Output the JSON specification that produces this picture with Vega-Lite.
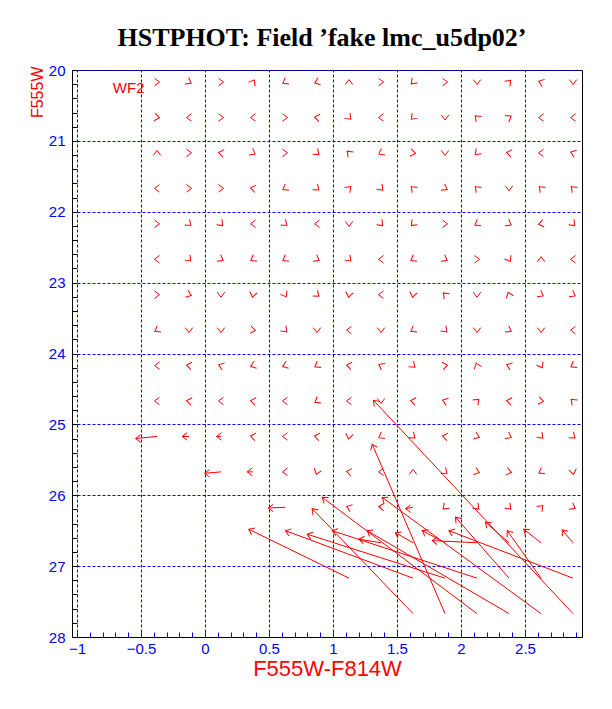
{
  "$schema": "https://vega.github.io/schema/vega-lite/v6.json",
  "width": 510,
  "height": 567,
  "autosize": {"type": "none"},
  "padding": {"left": 72, "top": 70, "right": 30, "bottom": 72},
  "background": "white",
  "config": {"view": {"stroke": "black", "strokeWidth": 1}},
  "title": {"text": "HSTPHOT: Field ’fake lmc_u5dp02’", "font": "Liberation Serif", "fontSize": 26, "fontWeight": "bold", "color": "black", "anchor": "middle", "offset": 12, "dx": -5},
  "datasets": {
    "stars": [
      {"x": -0.375, "y": 20.17, "dir": 0}, {"x": -0.125, "y": 20.17, "dir": 30}, {"x": 0.125, "y": 20.17, "dir": 0}, {"x": 0.375, "y": 20.17, "dir": 300}, {"x": 0.625, "y": 20.17, "dir": 150}, {"x": 0.875, "y": 20.17, "dir": 160}, {"x": 1.125, "y": 20.17, "dir": 270}, {"x": 1.375, "y": 20.17, "dir": 0}, {"x": 1.625, "y": 20.17, "dir": 135}, {"x": 1.875, "y": 20.17, "dir": 0}, {"x": 2.125, "y": 20.17, "dir": 90}, {"x": 2.375, "y": 20.17, "dir": 315}, {"x": 2.625, "y": 20.17, "dir": 200}, {"x": 2.875, "y": 20.17, "dir": 90},
      {"x": -0.375, "y": 20.67, "dir": 10}, {"x": -0.125, "y": 20.67, "dir": 180}, {"x": 0.125, "y": 20.67, "dir": 0}, {"x": 0.375, "y": 20.67, "dir": 180}, {"x": 0.625, "y": 20.67, "dir": 0}, {"x": 0.875, "y": 20.67, "dir": 190}, {"x": 1.125, "y": 20.67, "dir": 45}, {"x": 1.375, "y": 20.67, "dir": 180}, {"x": 1.625, "y": 20.67, "dir": 135}, {"x": 1.875, "y": 20.67, "dir": 90}, {"x": 2.125, "y": 20.67, "dir": 225}, {"x": 2.375, "y": 20.67, "dir": 330}, {"x": 2.625, "y": 20.67, "dir": 180}, {"x": 2.875, "y": 20.67, "dir": 180},
      {"x": -0.375, "y": 21.17, "dir": 270}, {"x": -0.125, "y": 21.17, "dir": 0}, {"x": 0.125, "y": 21.17, "dir": 190}, {"x": 0.375, "y": 21.17, "dir": 30}, {"x": 0.625, "y": 21.17, "dir": 0}, {"x": 0.875, "y": 21.17, "dir": 40}, {"x": 1.125, "y": 21.17, "dir": 225}, {"x": 1.375, "y": 21.17, "dir": 150}, {"x": 1.625, "y": 21.17, "dir": 10}, {"x": 1.875, "y": 21.17, "dir": 90}, {"x": 2.125, "y": 21.17, "dir": 135}, {"x": 2.375, "y": 21.17, "dir": 190}, {"x": 2.625, "y": 21.17, "dir": 180}, {"x": 2.875, "y": 21.17, "dir": 200},
      {"x": -0.375, "y": 21.67, "dir": 180}, {"x": -0.125, "y": 21.67, "dir": 0}, {"x": 0.125, "y": 21.67, "dir": 0}, {"x": 0.375, "y": 21.67, "dir": 190}, {"x": 0.625, "y": 21.67, "dir": 150}, {"x": 0.875, "y": 21.67, "dir": 40}, {"x": 1.125, "y": 21.67, "dir": 315}, {"x": 1.375, "y": 21.67, "dir": 45}, {"x": 1.625, "y": 21.67, "dir": 225}, {"x": 1.875, "y": 21.67, "dir": 30}, {"x": 2.125, "y": 21.67, "dir": 225}, {"x": 2.375, "y": 21.67, "dir": 90}, {"x": 2.625, "y": 21.67, "dir": 225}, {"x": 2.875, "y": 21.67, "dir": 225},
      {"x": -0.375, "y": 22.17, "dir": 0}, {"x": -0.125, "y": 22.17, "dir": 40}, {"x": 0.125, "y": 22.17, "dir": 45}, {"x": 0.375, "y": 22.17, "dir": 180}, {"x": 0.625, "y": 22.17, "dir": 40}, {"x": 0.875, "y": 22.17, "dir": 180}, {"x": 1.125, "y": 22.17, "dir": 90}, {"x": 1.375, "y": 22.17, "dir": 45}, {"x": 1.625, "y": 22.17, "dir": 135}, {"x": 1.875, "y": 22.17, "dir": 0}, {"x": 2.125, "y": 22.17, "dir": 150}, {"x": 2.375, "y": 22.17, "dir": 30}, {"x": 2.625, "y": 22.17, "dir": 170}, {"x": 2.875, "y": 22.17, "dir": 45},
      {"x": -0.375, "y": 22.67, "dir": 180}, {"x": -0.125, "y": 22.67, "dir": 45}, {"x": 0.125, "y": 22.67, "dir": 30}, {"x": 0.375, "y": 22.67, "dir": 150}, {"x": 0.625, "y": 22.67, "dir": 150}, {"x": 0.875, "y": 22.67, "dir": 30}, {"x": 1.125, "y": 22.67, "dir": 45}, {"x": 1.375, "y": 22.67, "dir": 180}, {"x": 1.625, "y": 22.67, "dir": 150}, {"x": 1.875, "y": 22.67, "dir": 30}, {"x": 2.125, "y": 22.67, "dir": 0}, {"x": 2.375, "y": 22.67, "dir": 60}, {"x": 2.625, "y": 22.67, "dir": 270}, {"x": 2.875, "y": 22.67, "dir": 180},
      {"x": -0.375, "y": 23.17, "dir": 0}, {"x": -0.125, "y": 23.17, "dir": 20}, {"x": 0.125, "y": 23.17, "dir": 90}, {"x": 0.375, "y": 23.17, "dir": 100}, {"x": 0.625, "y": 23.17, "dir": 60}, {"x": 0.875, "y": 23.17, "dir": 40}, {"x": 1.125, "y": 23.17, "dir": 100}, {"x": 1.375, "y": 23.17, "dir": 180}, {"x": 1.625, "y": 23.17, "dir": 100}, {"x": 1.875, "y": 23.17, "dir": 225}, {"x": 2.125, "y": 23.17, "dir": 90}, {"x": 2.375, "y": 23.17, "dir": 250}, {"x": 2.625, "y": 23.17, "dir": 30}, {"x": 2.875, "y": 23.17, "dir": 30},
      {"x": -0.375, "y": 23.67, "dir": 150}, {"x": -0.125, "y": 23.67, "dir": 90}, {"x": 0.125, "y": 23.67, "dir": 90}, {"x": 0.375, "y": 23.67, "dir": 10}, {"x": 0.625, "y": 23.67, "dir": 45}, {"x": 0.875, "y": 23.67, "dir": 90}, {"x": 1.125, "y": 23.67, "dir": 180}, {"x": 1.375, "y": 23.67, "dir": 90}, {"x": 1.625, "y": 23.67, "dir": 150}, {"x": 1.875, "y": 23.67, "dir": 45}, {"x": 2.125, "y": 23.67, "dir": 90}, {"x": 2.375, "y": 23.67, "dir": 30}, {"x": 2.625, "y": 23.67, "dir": 90}, {"x": 2.875, "y": 23.67, "dir": 180},
      {"x": -0.375, "y": 24.17, "dir": 180}, {"x": -0.125, "y": 24.17, "dir": 190}, {"x": 0.125, "y": 24.17, "dir": 200}, {"x": 0.375, "y": 24.17, "dir": 160}, {"x": 0.625, "y": 24.17, "dir": 160}, {"x": 0.875, "y": 24.17, "dir": 150}, {"x": 1.125, "y": 24.17, "dir": 190}, {"x": 1.375, "y": 24.17, "dir": 210}, {"x": 1.625, "y": 24.17, "dir": 40}, {"x": 1.875, "y": 24.17, "dir": 350}, {"x": 2.125, "y": 24.17, "dir": 250}, {"x": 2.375, "y": 24.17, "dir": 200}, {"x": 2.625, "y": 24.17, "dir": 60}, {"x": 2.875, "y": 24.17, "dir": 150},
      {"x": -0.375, "y": 24.67, "dir": 180}, {"x": -0.125, "y": 24.67, "dir": 190}, {"x": 0.125, "y": 24.67, "dir": 180}, {"x": 0.375, "y": 24.67, "dir": 190}, {"x": 0.625, "y": 24.67, "dir": 180}, {"x": 0.875, "y": 24.67, "dir": 150}, {"x": 1.125, "y": 24.67, "dir": 180}, {"x": 1.375, "y": 24.67, "dir": 90}, {"x": 1.625, "y": 24.67, "dir": 190}, {"x": 1.875, "y": 24.67, "dir": 200}, {"x": 2.125, "y": 24.67, "dir": 315}, {"x": 2.375, "y": 24.67, "dir": 190}, {"x": 2.625, "y": 24.67, "dir": 10}, {"x": 2.875, "y": 24.67, "dir": 225},
      {"x": 0.375, "y": 25.17, "dir": 190}, {"x": 0.625, "y": 25.17, "dir": 180}, {"x": 0.875, "y": 25.17, "dir": 190}, {"x": 1.125, "y": 25.17, "dir": 100}, {"x": 1.375, "y": 25.17, "dir": 150}, {"x": 1.625, "y": 25.17, "dir": 40}, {"x": 1.875, "y": 25.17, "dir": 190}, {"x": 2.125, "y": 25.17, "dir": 20}, {"x": 2.375, "y": 25.17, "dir": 30}, {"x": 2.625, "y": 25.17, "dir": 45}, {"x": 2.875, "y": 25.17, "dir": 40},
      {"x": 0.625, "y": 25.67, "dir": 180}, {"x": 0.875, "y": 25.67, "dir": 110}, {"x": 1.125, "y": 25.67, "dir": 190}, {"x": 1.375, "y": 25.67, "dir": 180}, {"x": 1.625, "y": 25.67, "dir": 270}, {"x": 1.875, "y": 25.67, "dir": 40}, {"x": 2.125, "y": 25.67, "dir": 20}, {"x": 2.375, "y": 25.67, "dir": 10}, {"x": 2.625, "y": 25.67, "dir": 150}, {"x": 2.875, "y": 25.67, "dir": 80},
      {"x": 1.125, "y": 26.17, "dir": 200}, {"x": 1.875, "y": 26.17, "dir": 135}, {"x": 2.125, "y": 26.17, "dir": 45}, {"x": 2.375, "y": 26.17, "dir": 45}, {"x": 2.625, "y": 26.17, "dir": 315}, {"x": 2.875, "y": 26.17, "dir": 30}
    ],
    "arrows": [
      {"x": 0.625, "y": 26.17, "mx": 0.494, "my": 26.18, "dir": 180},
      {"x": 1.375, "y": 26.17, "mx": 1.358, "my": 26.16, "dir": 185},
      {"x": 1.625, "y": 26.17, "mx": 1.566, "my": 26.19, "dir": 180},
      {"x": 1.625, "y": 27.67, "mx": 0.837, "my": 26.19, "dir": 226},
      {"x": 2.125, "y": 27.67, "mx": 0.916, "my": 26.03, "dir": 217},
      {"x": 2.625, "y": 27.67, "mx": 1.384, "my": 26.03, "dir": 216},
      {"x": 1.125, "y": 27.17, "mx": 0.342, "my": 26.48, "dir": 206},
      {"x": 1.625, "y": 27.17, "mx": 0.629, "my": 26.5, "dir": 200},
      {"x": 1.875, "y": 27.17, "mx": 0.798, "my": 26.55, "dir": 198},
      {"x": 2.125, "y": 27.17, "mx": 0.994, "my": 26.5, "dir": 198},
      {"x": 2.375, "y": 27.67, "mx": 1.267, "my": 26.5, "dir": 210},
      {"x": 1.375, "y": 26.67, "mx": 1.202, "my": 26.62, "dir": 189},
      {"x": 1.625, "y": 26.67, "mx": 1.488, "my": 26.53, "dir": 209},
      {"x": 1.875, "y": 26.67, "mx": 1.697, "my": 26.5, "dir": 208},
      {"x": 2.875, "y": 27.17, "mx": 1.905, "my": 26.5, "dir": 201},
      {"x": 2.125, "y": 26.67, "mx": 1.775, "my": 26.64, "dir": 183},
      {"x": 2.625, "y": 27.17, "mx": 2.361, "my": 26.5, "dir": 234},
      {"x": 2.375, "y": 26.67, "mx": 2.191, "my": 26.38, "dir": 221},
      {"x": 2.375, "y": 27.17, "mx": 1.957, "my": 26.31, "dir": 229},
      {"x": 2.625, "y": 26.67, "mx": 2.49, "my": 26.48, "dir": 218},
      {"x": 2.875, "y": 26.67, "mx": 2.79, "my": 26.49, "dir": 229},
      {"x": 1.875, "y": 27.67, "mx": 1.306, "my": 25.28, "dir": 247},
      {"x": 2.875, "y": 27.67, "mx": 1.316, "my": 24.66, "dir": 227},
      {"x": -0.375, "y": 25.17, "mx": -0.542, "my": 25.2, "dir": 180},
      {"x": -0.125, "y": 25.17, "mx": -0.178, "my": 25.17, "dir": 180},
      {"x": 0.125, "y": 25.17, "mx": 0.09, "my": 25.17, "dir": 180},
      {"x": 0.125, "y": 25.67, "mx": -0.004, "my": 25.69, "dir": 180},
      {"x": 0.375, "y": 25.67, "mx": 0.33, "my": 25.67, "dir": 180}
    ],
    "labels": [{"x": -0.72, "y": 20.25, "text": "WF2"}]
  },
  "layer": [
    {
      "data": {"name": "stars"},
      "mark": {"type": "point", "shape": "M-0.5,-0.75L0.5,0L-0.5,0.75", "filled": false, "color": "#ff0000", "opacity": 1, "strokeWidth": 1, "size": 100},
      "encoding": {
        "x": {
          "field": "x", "type": "quantitative",
          "scale": {"domain": [-1.039, 2.945], "nice": false, "zero": false},
          "axis": {
            "title": "F555W-F814W",
            "values": [-1, -0.9, -0.8, -0.7, -0.6, -0.5, -0.4, -0.3, -0.2, -0.1, 0, 0.1, 0.2, 0.3, 0.4, 0.5, 0.6, 0.7, 0.8, 0.9, 1, 1.1, 1.2, 1.3, 1.4, 1.5, 1.6, 1.7, 1.8, 1.9, 2, 2.1, 2.2, 2.3, 2.4, 2.5, 2.6, 2.7, 2.8, 2.9],
            "tickCount": 200,
            "format": "~g",
            "labelExpr": "abs(datum.value*2 - round(datum.value*2)) < 0.001 ? datum.label : ''",
            "labelOverlap": false,
            "labelFlush": false,
            "labelColor": "#0000ff",
            "labelFont": "Liberation Sans",
            "labelFontSize": 15,
            "labelPadding": 9,
            "tickSize": -5,
            "tickColor": "#0000ff",
            "domainColor": "black",
            "grid": true,
            "gridColor": "#0000ff",
            "gridDash": [3, 2],
            "gridOpacity": {"condition": {"test": "abs(datum.value*2 - round(datum.value*2)) < 0.001", "value": 1}, "value": 0},
            "titleColor": "#ff0000",
            "titleFont": "Liberation Sans",
            "titleFontSize": 22,
            "titleFontWeight": "normal",
            "titlePadding": 2
          }
        },
        "y": {
          "field": "y", "type": "quantitative",
          "scale": {"domain": [20, 28], "nice": false, "zero": false, "reverse": true},
          "axis": {
            "title": "F555W",
            "values": [20, 20.2, 20.4, 20.6, 20.8, 21, 21.2, 21.4, 21.6, 21.8, 22, 22.2, 22.4, 22.6, 22.8, 23, 23.2, 23.4, 23.6, 23.8, 24, 24.2, 24.4, 24.6, 24.8, 25, 25.2, 25.4, 25.6, 25.8, 26, 26.2, 26.4, 26.6, 26.8, 27, 27.2, 27.4, 27.6, 27.8, 28],
            "tickCount": 200,
            "format": "~g",
            "labelExpr": "abs(datum.value - round(datum.value)) < 0.001 ? datum.label : ''",
            "labelOverlap": false,
            "labelFlush": false,
            "labelColor": "#0000ff",
            "labelFont": "Liberation Sans",
            "labelFontSize": 15,
            "labelPadding": 12,
            "tickSize": -5,
            "tickColor": "black",
            "domainColor": "black",
            "grid": true,
            "gridColor": "#0000ff",
            "gridDash": [3, 2],
            "gridOpacity": {"condition": {"test": "abs(datum.value - round(datum.value)) < 0.001", "value": 1}, "value": 0},
            "titleColor": "#ff0000",
            "titleFont": "Liberation Sans",
            "titleFontSize": 16,
            "titleFontWeight": "normal",
            "titleAnchor": "start",
            "titleAlign": "right",
            "titleY": -4,
            "titlePadding": 3
          }
        },
        "angle": {"field": "dir", "type": "quantitative", "scale": null}
      }
    },
    {
      "data": {"name": "arrows"},
      "mark": {"type": "rule", "color": "#ff0000", "strokeWidth": 1},
      "encoding": {
        "x": {"field": "x", "type": "quantitative", "title": "F555W-F814W"},
        "y": {"field": "y", "type": "quantitative", "title": "F555W"},
        "x2": {"field": "mx"},
        "y2": {"field": "my"}
      }
    },
    {
      "data": {"name": "arrows"},
      "mark": {"type": "point", "shape": "M-1,-0.75L0,0L-1,0.75", "filled": false, "color": "#ff0000", "opacity": 1, "strokeWidth": 1, "size": 100},
      "encoding": {
        "x": {"field": "mx", "type": "quantitative", "title": "F555W-F814W"},
        "y": {"field": "my", "type": "quantitative", "title": "F555W"},
        "angle": {"field": "dir", "type": "quantitative", "scale": null}
      }
    },
    {
      "data": {"name": "labels"},
      "mark": {"type": "text", "align": "left", "baseline": "middle", "color": "#ff0000", "font": "Liberation Sans", "fontSize": 15},
      "encoding": {
        "x": {"field": "x", "type": "quantitative", "title": "F555W-F814W"},
        "y": {"field": "y", "type": "quantitative", "title": "F555W"},
        "text": {"field": "text"}
      }
    }
  ]
}
